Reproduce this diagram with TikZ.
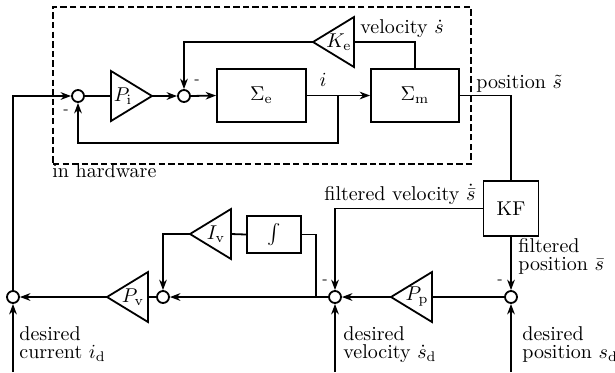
\documentclass[tikz,border=0pt]{standalone}
\usetikzlibrary{arrows.meta,calc}
\begin{document}
\begin{tikzpicture}[x=0.5pt,y=-0.5pt,
  line/.style={line width=0.9pt},
  arr/.style={line, -{Stealth[length=5.2pt,width=3.8pt,inset=1.6pt]}},
  sumj/.style={circle,draw,line width=0.9pt,minimum size=6pt,inner sep=0pt},
  blk/.style={rectangle,draw,line width=0.9pt,inner sep=0pt},
  hwbox/.style={rectangle,draw,line width=0.9pt,dash pattern=on 3.2pt off 1.6pt,inner sep=0pt,minimum width=209pt,minimum height=78.5pt},
  txt/.style={inner sep=0pt,font=\fontsize{10}{9}\selectfont},
  ml/.style={txt,align=left,anchor=base west},
  minus/.style={inner sep=0pt,font=\scriptsize},
  pics/ampR/.style={code={
    \draw[line] (0,-25) -- (41,0) -- (0,25) -- cycle;
    \coordinate (-in) at (0,0);
    \coordinate (-out) at (41,0);
    \node[txt] (-lab) at (12,0) {#1};
  }},
  pics/ampL/.style={code={
    \draw[line] (0,-25) -- (-41,0) -- (0,25) -- cycle;
    \coordinate (-in) at (0,0);
    \coordinate (-out) at (-41,0);
    \node[txt] (-lab) at (-15,0) {#1};
  }}
]
\useasboundingbox (0,0) rectangle (615,372);

% hardware frame
\node[hwbox] (hw) at (262,85.5) {};
\node[ml] (hwlab) at (52,177) {in hardware};

% junctions
\node[sumj] (J1) at (78,96) {};
\node[sumj] (J2) at (184,96) {};
\node[sumj] (J3) at (335,297) {};
\node[sumj] (J4) at (511,297) {};
\node[sumj] (J5) at (163,297) {};
\node[sumj] (J6) at (13,297) {};

% blocks
\node[blk,minimum width=44.5pt,minimum height=26.5pt] (Se) at (261.5,95.5) {$\Sigma_\mathrm{e}$};
\node[blk,minimum width=44pt,minimum height=26.5pt] (Sm) at (415,95.5) {$\Sigma_\mathrm{m}$};
\node[blk,minimum width=27.5pt,minimum height=27.5pt] (KF) at (511,208.5) {KF};
\node[blk,minimum width=27pt,minimum height=18.5pt] (Int) at (274,234.5) {$\int$};

% amplifiers
\pic (Pi) at (111,96) {ampR={$P_\mathrm{i}$}};
\pic (Ke) at (354,42) {ampL={$K_\mathrm{e}$}};
\pic (Iv) at (231,234) {ampL={$I_\mathrm{v}$}};
\pic (Pv) at (148,297) {ampL={$P_\mathrm{v}$}};
\pic (Pp) at (432,297) {ampL={$P_\mathrm{p}$}};

% helper coordinates
\coordinate (br1) at (338,96);
\coordinate (fb1) at (338,143);
\coordinate (br2) at (316,297);
\coordinate (inI) at (13,372);
\coordinate (inV) at (335,372);
\coordinate (inP) at (511,372);

% connectors
\draw[arr] (J6.north) |- (J1.west);
\draw[line] (J1.east) -- (Pi-in);
\draw[arr] (Pi-out) -- (J2.west);
\draw[arr] (J2.east) -- (Se.west);
\draw[arr] (Se.east) -- (Sm.west);
\draw[arr] (br1) -- (fb1) -| (J1.south);
\draw[line] (Sm.north) |- (Ke-in);
\draw[arr] (Ke-out) -| (J2.north);
\draw[line] (Sm.east) -| (KF.north);
\draw[arr] (KF.west) -| (J3.north);
\draw[arr] (KF.south) -- (J4.north);
\draw[line] (J4.west) -- (Pp-in);
\draw[arr] (Pp-out) -- (J3.east);
\draw[arr] (J3.west) -- (J5.east);
\draw[line] (br2) |- (Int.east);
\draw[line] (Int.west) -- (Iv-in);
\draw[arr] (Iv-out) -| (J5.north);
\draw[line] (J5.west) -- (Pv-in);
\draw[arr] (Pv-out) -- (J6.east);
\draw[arr] (inI) -- (J6.south);
\draw[arr] (inV) -- (J3.south);
\draw[arr] (inP) -- (J4.south);

% labels
\node[txt] (ilab) at (323,80) {$i$};
\node[ml] (vlab) at (360,33) {velocity $\dot s$};
\node[ml] (plab) at (476,88) {position $\tilde s$};
\node[ml] (fvlab) at (324,200) {filtered velocity $\dot{\bar s}$};
\node[ml] (fplab) at (518,270) {filtered\\position $\bar s$};
\node[ml] (dclab) at (19,358) {desired\\current $i_\mathrm{d}$};
\node[ml] (dvlab) at (343,358) {desired\\velocity $\dot s_\mathrm{d}$};
\node[ml] (dplab) at (522,358) {desired\\position $s_\mathrm{d}$};

% minus signs
\node[minus] (m1) at (66,112) {-};
\node[minus] (m2) at (197,82) {-};
\node[minus] (m3) at (325,282) {-};
\node[minus] (m4) at (500,282) {-};
\end{tikzpicture}
\end{document}
